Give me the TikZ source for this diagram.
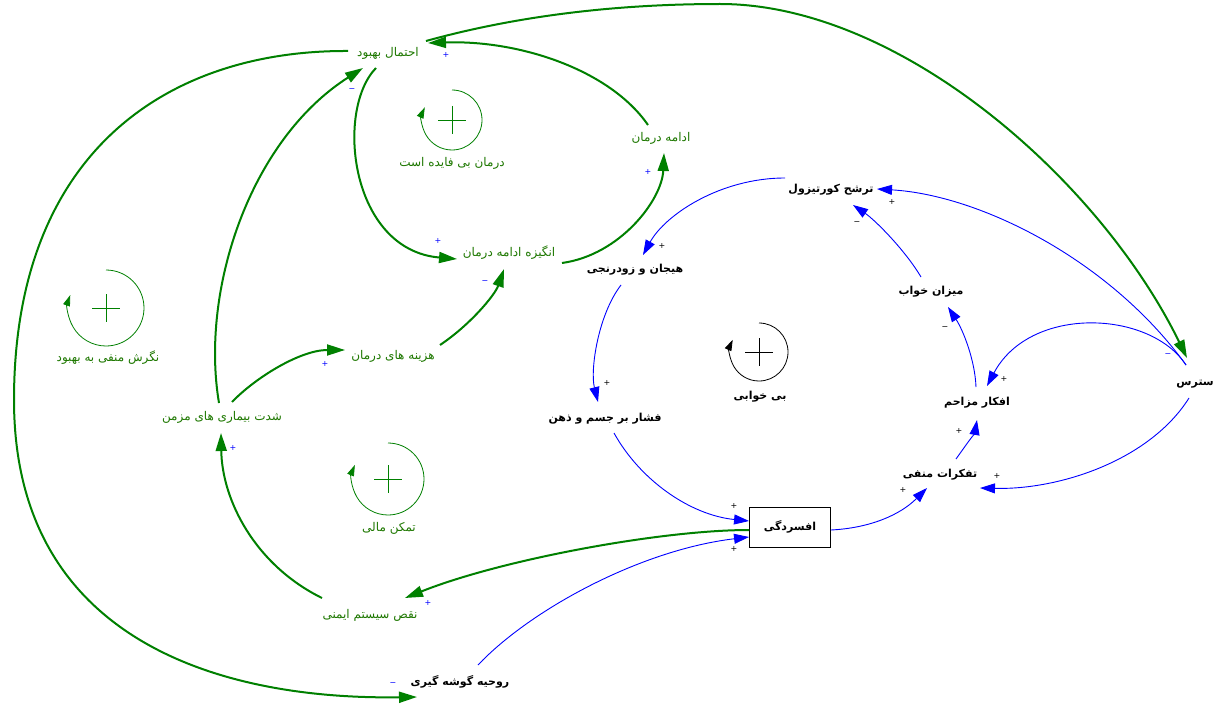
\documentclass[tikz,border=0pt]{standalone}
\usepackage{fontspec}
\usetikzlibrary{arrows.meta,calc}
\newfontfamily\fa[Script=Arabic]{DejaVu Sans}
\newfontfamily\fab[Script=Arabic]{DejaVu Sans Bold}
\newfontfamily\signfont{DejaVu Sans}
\TeXXeTstate=1
\definecolor{lgreen}{RGB}{0,128,0}
\definecolor{lblue}{RGB}{0,0,255}
\definecolor{tgreen}{RGB}{30,120,0}
\tikzset{
  gvar/.style={inner sep=0pt, text=tgreen, font=\fa\fontsize{12}{14}\selectfont},
  bvar/.style={inner sep=0pt, text=black, font=\fab\fontsize{11}{14}\selectfont},
  glink/.style={draw=lgreen, line width=2pt, -{Triangle[length=18pt,width=11pt]}},
  blink/.style={draw=lblue, line width=0.9pt, -{Triangle[length=15pt,width=10pt]}},
  gsign/.style={text=lblue, inner sep=0pt, font=\signfont\fontsize{8}{9}\selectfont},
  bsign/.style={text=black, inner sep=0pt, font=\signfont\fontsize{8}{9}\selectfont},
  gloop/.style={draw=lgreen, line width=0.8pt, -{Triangle[length=11pt,width=7pt]}},
  kloop/.style={draw=black, line width=0.8pt, -{Triangle[length=11pt,width=7pt]}},
  boxvar/.style={bvar, draw=black, line width=0.9pt, minimum width=81pt, minimum height=40pt}
}
\begin{document}
\begin{tikzpicture}[x=1pt,y=-1pt]
\useasboundingbox (0,0) rectangle (1216,706);
\fill[white] (0,0) rectangle (1216,706);

% variables
\node[gvar] (A) at (388,53) {\beginR احتمال بهبود\endR};
\node[gvar] (B) at (661,138) {\beginR ادامه درمان\endR};
\node[gvar] (C) at (509,253) {\beginR انگیزه ادامه درمان\endR};
\node[gvar] (D) at (393,356) {\beginR هزینه های درمان\endR};
\node[gvar] (E) at (222,417) {\beginR شدت بیماری های مزمن\endR};
\node[gvar] (F) at (370,615) {\beginR نقص سیستم ایمنی\endR};
\node[bvar] (G) at (460,682) {\beginR روحیه گوشه گیری\endR};
\node[boxvar] (H) at (790,527) {\beginR افسردگی\endR};
\node[bvar] (I) at (605,419) {\beginR فشار بر جسم و ذهن\endR};
\node[bvar] (J) at (635,270) {\beginR هیجان و زودرنجی\endR};
\node[bvar] (K) at (831,190) {\beginR ترشح کورتیزول\endR};
\node[bvar] (L) at (931,292) {\beginR میزان خواب\endR};
\node[bvar, anchor=east] (M) at (1214,384) {\beginR سترس\endR};
\node[bvar] (N) at (977,403) {\beginR افکار مزاحم\endR};
\node[bvar] (O) at (940,475) {\beginR تفکرات منفی\endR};

% loop labels
\node[gvar] (P) at (452,163) {\beginR درمان بی فایده است\endR};
\node[gvar] (Q) at (108,358) {\beginR نگرش منفی به بهبود\endR};
\node[gvar] (R) at (389,528) {\beginR تمکن مالی\endR};
\node[bvar] (S) at (760,397) {\beginR بی خوابی\endR};

% loop symbols
\draw[gloop] (452,90) arc[start angle=-90, end angle=205, radius=30];
\draw[lgreen, line width=0.8pt] (438,120) -- (466,120) (452,106) -- (452,134);
\draw[gloop] (106,270) arc[start angle=-90, end angle=200, radius=38];
\draw[lgreen, line width=0.8pt] (92,308) -- (120,308) (106,294) -- (106,322);
\draw[gloop] (388,443) arc[start angle=-90, end angle=203, radius=36];
\draw[lgreen, line width=0.8pt] (374,479) -- (402,479) (388,465) -- (388,493);
\draw[kloop] (759,323) arc[start angle=-90, end angle=205, radius=29];
\draw[black, line width=0.8pt] (745,352) -- (773,352) (759,338) -- (759,366);

% green links
\draw[glink] ($(B)+(-13,-13)$) .. controls (610,70) and (520,40) .. ($(A)+(40,-10)$);
\draw[glink] ($(A)+(-12,15)$) .. controls (335,110) and (350,250) .. ($(C)+(-52,6)$);
\draw[glink] ($(C)+(53,10)$) .. controls (620,255) and (662,200) .. ($(B)+(3,15)$);
\draw[glink] ($(D)+(47,-11)$) .. controls (470,325) and (495,295) .. ($(C)+(-5,16)$);
\draw[glink] ($(E)+(10,-15)$) .. controls (255,378) and (300,350) .. ($(D)+(-48,-6)$);
\draw[glink] ($(E)+(-3,-14)$) .. controls (200,290) and (250,140) .. ($(A)+(-25,15)$);
\draw[glink] ($(F)+(-48,-17)$) .. controls (255,565) and (222,500) .. ($(E)+(-1,16)$);
\draw[glink] ($(H.west)+(0,3)$) .. controls (660,530) and (500,560) .. ($(F)+(35,-17)$);
\draw[glink] ($(A)+(-40,-2)$) .. controls (170,50) and (14,150) .. (14,400)
   .. controls (14,640) and (220,700) .. ($(G)+(-43,15)$);
\draw[glink] ($(A)+(38,-12)$) .. controls (520,15) and (620,4) .. (720,4)
   .. controls (900,4) and (1100,180) .. ($(M.east)+(-27,-26)$);

% blue links
\draw[blink] ($(K)+(-46,-12)$) .. controls (720,178) and (665,215) .. ($(J)+(8,-15)$);
\draw[blink] ($(J)+(-14,15)$) .. controls (598,315) and (590,370) .. ($(I)+(-7,-17)$);
\draw[blink] ($(I)+(9,14)$) .. controls (640,480) and (690,515) .. ($(H.west)+(0,-6)$);
\draw[blink] ($(G)+(18,-17)$) .. controls (530,610) and (640,550) .. ($(H.west)+(0,10)$);
\draw[blink] ($(H.east)+(0,3)$) .. controls (870,528) and (900,515) .. ($(O)+(-13,13)$);
\draw[blink] ($(O)+(16,-16)$) .. controls (966,445) and (975,432) .. ($(N)+(0,17)$);
\draw[blink] ($(N)+(-1,-16)$) .. controls (975,360) and (963,330) .. ($(L)+(17,15)$);
\draw[blink] ($(L)+(-10,-15)$) .. controls (905,250) and (875,220) .. ($(K)+(22,15)$);
\draw[blink] ($(M.east)+(-28,-19)$) .. controls (1110,260) and (980,195) .. ($(K)+(46,-1)$);
\draw[blink] ($(M.east)+(-28,-19)$) .. controls (1150,310) and (1030,305) .. ($(N)+(10,-17)$);
\draw[blink] ($(M.east)+(-25,14)$) .. controls (1150,460) and (1060,490) .. ($(O)+(40,13)$);

% polarity signs (green links)
\node[gsign] (s1) at (446,55) {+};
\node[gsign] (s2) at (438,241) {+};
\node[gsign] (s3) at (648,172) {+};
\node[gsign] (s4) at (485,282) {−};
\node[gsign] (s5) at (325,364) {+};
\node[gsign] (s6) at (352,90) {−};
\node[gsign] (s7) at (233,448) {+};
\node[gsign] (s8) at (428,603) {+};
\node[gsign] (s9) at (393,684) {−};
\node[gsign] (s10) at (1168,355) {−};
% polarity signs (blue links)
\node[bsign] (s11) at (662,246) {+};
\node[bsign] (s12) at (607,383) {+};
\node[bsign] (s13) at (734,506) {+};
\node[bsign] (s14) at (734,549) {+};
\node[bsign] (s15) at (903,490) {+};
\node[bsign] (s16) at (959,431) {+};
\node[bsign] (s17) at (945,328) {−};
\node[bsign] (s18) at (857,223) {−};
\node[bsign] (s19) at (892,202) {+};
\node[bsign] (s20) at (1004,379) {+};
\node[bsign] (s21) at (997,476) {+};
\end{tikzpicture}
\end{document}
